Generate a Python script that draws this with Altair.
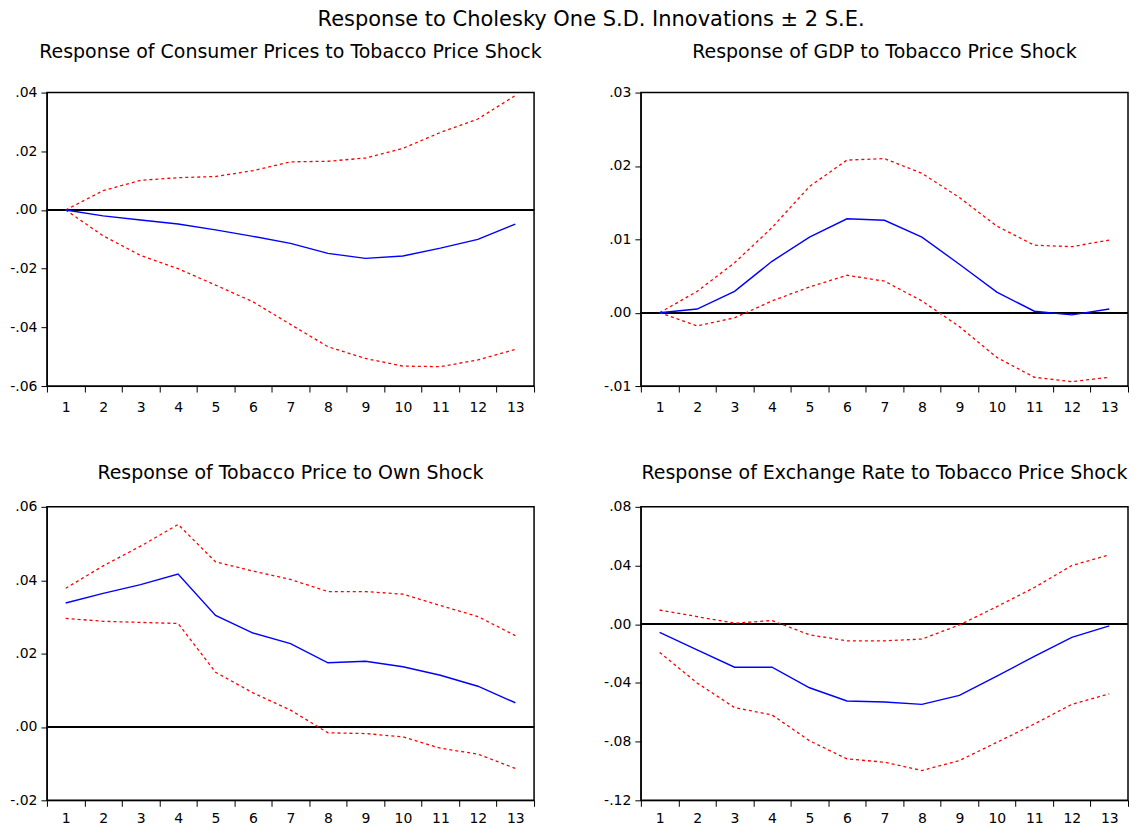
import altair as alt
import pandas as pd

FONT = "DejaVu Sans"

horizons = list(range(1, 14))

# Response of Consumer Prices to Tobacco Price Shock
cp_resp = [0.0, -0.0020, -0.0034, -0.0048, -0.0068, -0.0090, -0.0114, -0.0148, -0.0165, -0.0157, -0.0130, -0.0100, -0.0048]
cp_upper = [0.0, 0.0066, 0.0101, 0.0110, 0.0114, 0.0134, 0.0164, 0.0166, 0.0177, 0.0210, 0.0264, 0.0310, 0.0390]
cp_lower = [0.0, -0.0088, -0.0155, -0.0200, -0.0256, -0.0313, -0.0390, -0.0466, -0.0506, -0.0532, -0.0534, -0.0511, -0.0475]

# Response of GDP to Tobacco Price Shock
gdp_resp = [0.0, 0.0005, 0.0029, 0.0070, 0.0103, 0.0128, 0.0126, 0.0103, 0.0066, 0.0028, 0.0002, -0.0003, 0.0005]
gdp_upper = [0.0, 0.0029, 0.0068, 0.0116, 0.0172, 0.0208, 0.0210, 0.0190, 0.0157, 0.0118, 0.0092, 0.0090, 0.0099]
gdp_lower = [0.0, -0.0018, -0.0007, 0.0016, 0.0035, 0.0051, 0.0043, 0.0016, -0.0019, -0.0061, -0.0088, -0.0094, -0.0088]

# Response of Tobacco Price to Own Shock
tp_resp = [0.0338, 0.0364, 0.0388, 0.0417, 0.0304, 0.0256, 0.0227, 0.0175, 0.0179, 0.0164, 0.0141, 0.0111, 0.0066]
tp_upper = [0.0378, 0.0439, 0.0493, 0.0552, 0.0450, 0.0425, 0.0402, 0.0369, 0.0369, 0.0362, 0.0331, 0.0301, 0.0249]
tp_lower = [0.0296, 0.0288, 0.0285, 0.0282, 0.0149, 0.0093, 0.0046, -0.0016, -0.0018, -0.0027, -0.0058, -0.0074, -0.0113]

# Response of Exchange Rate to Tobacco Price Shock
er_resp = [-0.0056, -0.0174, -0.0293, -0.0293, -0.0433, -0.0523, -0.0530, -0.0546, -0.0485, -0.0354, -0.0219, -0.0090, -0.0011]
er_upper = [0.0097, 0.0052, 0.0007, 0.0025, -0.0072, -0.0113, -0.0113, -0.0101, -0.0005, 0.0120, 0.0250, 0.0400, 0.0473]
er_lower = [-0.0192, -0.0400, -0.0568, -0.0618, -0.0794, -0.0918, -0.0940, -0.0997, -0.0929, -0.0805, -0.0680, -0.0546, -0.0474]

panel_titles = [
    "Response of Consumer Prices to Tobacco Price Shock",
    "Response of GDP to Tobacco Price Shock",
    "Response of Tobacco Price to Own Shock",
    "Response of Exchange Rate to Tobacco Price Shock",
]
y_domains = [(-0.06, 0.04), (-0.01, 0.03), (-0.02, 0.06), (-0.12, 0.08)]
y_ticks = [
    [-0.06, -0.04, -0.02, 0.0, 0.02, 0.04],
    [-0.01, 0.0, 0.01, 0.02, 0.03],
    [-0.02, 0.0, 0.02, 0.04, 0.06],
    [-0.12, -0.08, -0.04, 0.0, 0.04, 0.08],
]
main_title = "Response to Cholesky One S.D. Innovations \u00b1 2 S.E."

W, H = 488, 294

LABEL_EXPR = (
    "(datum.value < -1e-9 ? '-' : '') + "
    "replace(format(abs(datum.value), '.2f'), '0.', '.')"
)


def panel(title, resp, upper, lower, dom, ticks, title_offset, xpad):
    df = pd.DataFrame({"h": horizons, "resp": resp, "upper": upper, "lower": lower})
    xenc = alt.X(
        "h:O",
        bandPosition=0.5,
        scale=alt.Scale(type="band", paddingInner=0, paddingOuter=0),
        axis=alt.Axis(title=None, labelAngle=0, tickBand="extent", labelPadding=xpad),
    )
    yscale = alt.Scale(domain=list(dom), nice=False, zero=False)
    yaxis = alt.Axis(title=None, values=ticks, labelExpr=LABEL_EXPR)
    base = alt.Chart(df)
    zero = base.mark_rule(color="black", strokeWidth=1.3).encode(y=alt.datum(0))
    up = base.mark_line(color="#ff0000", strokeWidth=1.3, strokeDash=[3, 3]).encode(
        x=xenc, y=alt.Y("upper:Q", title=None, scale=yscale)
    )
    lo = base.mark_line(color="#ff0000", strokeWidth=1.3, strokeDash=[3, 3]).encode(
        x=xenc, y=alt.Y("lower:Q", title=None, scale=yscale)
    )
    rs = base.mark_line(color="#0000ff", strokeWidth=1.4).encode(
        x=xenc, y=alt.Y("resp:Q", title=None, scale=yscale, axis=yaxis)
    )
    return alt.layer(zero, up, lo, rs).properties(
        width=W,
        height=H,
        title=alt.TitleParams(
            title,
            font=FONT,
            fontSize=19,
            fontWeight="normal",
            color="black",
            anchor="middle",
            offset=title_offset,
        ),
    )


p1 = panel(panel_titles[0], cp_resp, cp_upper, cp_lower, y_domains[0], y_ticks[0], 24, 8)
p2 = panel(panel_titles[1], gdp_resp, gdp_upper, gdp_lower, y_domains[1], y_ticks[1], 24, 8)
p3 = panel(panel_titles[2], tp_resp, tp_upper, tp_lower, y_domains[2], y_ticks[2], 17, 5)
p4 = panel(panel_titles[3], er_resp, er_upper, er_lower, y_domains[3], y_ticks[3], 17, 5)

chart = (
    alt.concat(
        p1, p2, p3, p4,
        columns=2,
        spacing={"row": 121, "column": 107},
        bounds="flush",
        title=alt.TitleParams(
            main_title,
            font=FONT,
            fontSize=21,
            fontWeight="normal",
            color="black",
            anchor="middle",
            offset=12,
            dx=22,
        ),
    )
    .properties(padding={"left": 0, "top": 0, "right": 0, "bottom": 0})
    .configure_view(stroke="black", strokeWidth=1.5)
    .configure_axis(
        labelFont=FONT,
        labelFontSize=14,
        labelColor="black",
        tickColor="black",
        domainColor="black",
        tickSize=6,
        labelPadding=4,
        grid=False,
    )
)

chart.save("out.html", embed_options={"renderer": "svg", "actions": False})
